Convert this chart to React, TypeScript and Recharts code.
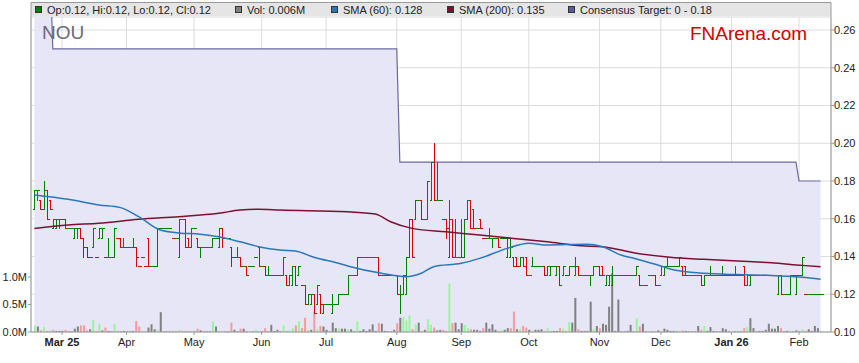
import React from "react";
import { ComposedChart, XAxis, YAxis, CartesianGrid, Area, Bar, Line, Cell } from "recharts";

// x positions are weekday indexes starting Tue 18 Feb 2025
const MONTH_IDX = [9, 30, 52, 74, 95, 118, 139, 161, 184, 204, 227, 249];
const MONTH_LABELS = ["Mar 25", "Apr", "May", "Jun", "Jul", "Aug", "Sep", "Oct", "Nov", "Dec", "Jan 26", "Feb"];
const BOLD_LABELS = ["Mar 25", "Jan 26"];
const PRICE_TICKS = [0.1, 0.12, 0.14, 0.16, 0.18, 0.2, 0.22, 0.24, 0.26];
const LEFT_MINOR_TICKS = [0.14, 0.16, 0.18, 0.2, 0.22, 0.24, 0.26];
const VOL_TICKS = [0, 0.5, 1];

// daily prices in cents
const OPEN = [
  16.5, 17.5, 17, 16.5, 17.5, 17, 15.5, 15.5, 16, 16,
  16, 15.5, 15.5, 15, 15.5, 15.5, 15, 14.5, 14, 14.5,
  14, 15, 15, 14, 14, 14, 14, 15, 15, 14.5,
  14.5, 14.5, 14.5, 14.5, 13.5, 14, 13.5, 15, 13.5, 13.5,
  13.5, 15.5, 15.5, 15.5, 15.5, 15, 15, 14, 16, 16,
  15, 14.5, 15.5, 15, 14.5, 14.5, 14.5, 14.5, 14.5, 15,
  14.5, 15.5, 15, 15, 14.5, 14, 14, 14, 13.5, 13.5,
  13.5, 13.5, 14, 14.5, 13.5, 13.5, 13, 13, 13, 13,
  13, 13, 13, 12.5, 12.5, 13.5, 13, 12.5, 12.5, 11.5,
  11.5, 12, 11.5, 12, 11, 11.5, 11.5, 11, 11.5, 11.5,
  12, 12, 12, 13, 13, 13, 14, 14, 14, 14,
  14, 14, 14, 13, 13, 13, 13, 13, 13, 12,
  12, 12, 14, 16, 16, 17, 17, 16, 16, 17,
  19, 17, 17, 16, 16, 14, 16, 14, 14, 14,
  14, 16, 17, 16.5, 15.5, 16, 15, 15, 15, 15,
  15, 15, 15, 15, 14, 14, 14, 14, 13.5, 14,
  14, 13, 13.5, 13.5, 13.5, 13.5, 13.5, 13, 13, 13.5,
  13, 13.5, 13, 13, 13, 13.5, 13, 13.5, 13, 13,
  13, 13, 13, 13.5, 13.5, 13.5, 12.5, 12.5, 12.5, 13,
  13, 13, 13, 13, 13, 13, 13, 13, 12.5, 12.5,
  13, 13, 13, 12.5, 13, 13, 13.5, 13.5, 13.5, 13.5,
  13.5, 13.5, 13.5, 13, 13, 13, 13, 13, 12.5, 13,
  13, 13, 13, 13, 13, 13, 13, 13, 13, 13,
  13, 13.5, 12.5, 12.5, 13, 13, 13, 13, 13, 13,
  13, 13, 12, 13, 12, 12, 12, 13, 12, 13,
  13, 12, 12, 12, 12, 12, 12,
];
const HIGH = [
  17.5, 17.5, 17, 18, 17.5, 17, 16, 16, 16, 16,
  16, 15.5, 15.5, 15.5, 15.5, 15.5, 15, 14.5, 14, 15.5,
  14, 15.5, 15.5, 14, 15, 14, 15.5, 15, 15, 15,
  14.5, 14.5, 15, 14.5, 13.5, 14, 13.5, 15, 13.5, 13.5,
  15.5, 15.5, 15.5, 15.5, 15.5, 15, 15, 16, 16, 16,
  15, 15.5, 15.5, 15, 14.5, 14.5, 14.5, 14.5, 15, 15,
  15.5, 15.5, 15, 15, 14.5, 14, 14.5, 14, 13.5, 13.5,
  13.5, 13.5, 14, 14.5, 13.5, 13.5, 13.5, 13, 13, 13,
  13, 14, 13, 13, 13.5, 13.5, 13.5, 12.5, 12.5, 12,
  12, 12, 12.5, 12, 11.5, 11.5, 11.5, 12, 11.5, 12,
  12, 12, 13, 13, 13, 14, 14, 14, 14, 14,
  14, 14, 14, 13, 13, 13, 13, 13, 13, 12.5,
  13, 14, 16, 16, 17, 17, 17, 16, 18, 19,
  20, 19, 17, 16, 16, 17, 16, 16, 14, 16,
  16, 17, 17, 16.5, 15.5, 16, 15, 15, 15.5, 15,
  15, 15, 15, 15, 15, 15, 14, 14, 14, 14,
  14, 13, 14, 13.5, 13.5, 13.5, 13.5, 13.5, 13.5, 13.5,
  13.5, 13.5, 13.5, 13, 13.5, 13.5, 14, 13.5, 13, 13,
  13, 13, 13.5, 13.5, 13.5, 13.5, 13, 13, 13.5, 13,
  13, 13, 13, 13, 13, 13, 13.5, 13, 12.5, 12.5,
  13, 13, 13, 12.5, 13.5, 13.5, 14, 13.5, 13.5, 13.5,
  14, 13.5, 13.5, 13, 13, 13, 13, 13, 13, 13,
  13.5, 13, 13, 13, 13.5, 13, 13, 13, 13.5, 13,
  13, 13.5, 13, 13, 13, 13, 13, 13, 13, 13,
  13, 13, 13, 13, 12, 12, 13, 13, 13, 13,
  14, 12, 12, 12, 12, 12, 12,
];
const LOW = [
  16.5, 17, 16.5, 16.5, 16, 16.5, 15.5, 15.5, 15.5, 16,
  15.5, 15.5, 15.5, 15, 15, 15, 14, 14, 14, 14.5,
  14, 15, 15, 14, 14, 14, 14, 15, 14.5, 14.5,
  14.5, 14.5, 14.5, 13.5, 13.5, 14, 13.5, 13.5, 13.5, 13.5,
  13.5, 15.5, 15.5, 15.5, 15.5, 15, 15, 14, 16, 14.5,
  14.5, 14.5, 15.5, 14.5, 14, 14.5, 14.5, 14.5, 14.5, 15,
  14.5, 14.5, 15, 15, 13.5, 14, 14, 13.5, 13.5, 13,
  13.5, 13.5, 14, 13.5, 13.5, 13, 13, 13, 13, 13,
  13, 13, 12.5, 12.5, 12.5, 12.5, 13, 12.5, 11.5, 11.5,
  11.5, 11, 11.5, 11, 11, 11.5, 11.5, 11, 11.5, 11.5,
  12, 12, 12, 13, 13, 13, 14, 14, 14, 14,
  14, 14, 13, 13, 13, 13, 13, 13, 12, 11,
  12, 12, 14, 14, 16, 17, 16, 16, 16, 17,
  17, 17, 17, 16, 15, 14, 14, 14, 14, 14,
  14, 16, 15.5, 15.5, 15.5, 15.5, 15, 15, 15, 14.5,
  15, 14.5, 15, 15, 14, 14, 13.5, 13.5, 13.5, 13.5,
  13, 13, 13.5, 13.5, 13.5, 13.5, 13, 13, 13, 13.5,
  13, 12.5, 13, 13, 13, 13.5, 13, 13, 13, 13,
  13, 12.5, 13, 13.5, 13, 13, 12.5, 12.5, 12.5, 13,
  13, 13, 13, 13, 13, 13, 13, 12.5, 12.5, 12.5,
  13, 13, 12.5, 12.5, 13, 13, 13.5, 13.5, 13.5, 13.5,
  13.5, 13, 13, 13, 13, 13, 13, 12.5, 12.5, 13,
  13, 13, 13, 13, 13, 13, 13, 13, 13, 13,
  13, 12.5, 12.5, 12.5, 13, 13, 13, 13, 13, 13,
  13, 13, 12, 12, 12, 12, 12, 13, 12, 13,
  13, 12, 12, 12, 12, 12, 12,
];
const CLOSE = [
  17.5, 17.5, 16.5, 17.5, 16, 16.5, 16, 16, 16, 16,
  15.5, 15.5, 15.5, 15.5, 15.5, 15, 14.5, 14, 14, 15.5,
  14, 15.5, 15.5, 14, 14, 14, 15.5, 15, 14.5, 14.5,
  14.5, 14.5, 14.5, 14, 13.5, 14, 13.5, 13.5, 13.5, 13.5,
  15.5, 15.5, 15.5, 15.5, 15.5, 15, 15, 16, 16, 14.5,
  14.5, 15.5, 15.5, 14.5, 14.5, 14.5, 14.5, 14.5, 15, 15,
  15.5, 15, 15, 15, 14, 14, 14, 13.5, 13.5, 13,
  13.5, 13.5, 14, 13.5, 13.5, 13, 13, 13, 13, 13,
  13, 14, 12.5, 13, 13.5, 12.5, 13.5, 12.5, 11.5, 12,
  12, 11, 12.5, 11.5, 11.5, 11.5, 11.5, 11.5, 11.5, 12,
  12, 12, 13, 13, 13, 14, 14, 14, 14, 14,
  14, 14, 13, 13, 13, 13, 13, 13, 12, 12,
  13, 14, 16, 14, 17, 17, 16, 16, 18, 19,
  17, 17, 17, 16, 15.5, 16, 14, 14, 14, 14,
  16, 17, 15.5, 15.5, 15.5, 15.5, 15, 15, 15, 15,
  15, 14.5, 15, 15, 15, 14.5, 13.5, 13.5, 14, 13.5,
  13, 13, 13.5, 13.5, 13.5, 13.5, 13, 13.5, 13.5, 13.5,
  13.5, 12.5, 13.5, 13, 13.5, 13.5, 13.5, 13, 13, 13,
  13, 13, 13.5, 13.5, 13, 13, 13, 13, 13, 13,
  13, 13, 13, 13, 13, 13, 13.5, 12.5, 12.5, 12.5,
  13, 13, 12.5, 12.5, 13.5, 13.5, 13.5, 13.5, 13.5, 13.5,
  14, 13, 13, 13, 13, 13, 13, 12.5, 13, 13,
  13, 13, 13, 13, 13, 13, 13, 13, 13, 13,
  13, 12.5, 13, 13, 13, 13, 13, 13, 13, 13,
  13, 13, 13, 12, 12, 12, 13, 13, 13, 13,
  14, 12, 12, 12, 12, 12, 12,
];
// daily volume in millions of shares
const VOLUME = [
  0.115, 0.1, 0.03, 0.09, 0.02, 0.03, 0.04, 0.02, 0.02, 0.02,
  0.04, 0.01, 0.01, 0.06, 0.1, 0.12, 0.12, 0.03, 0.05, 0.22,
  0.02, 0.15, 0.03, 0.08, 0.02, 0.01, 0.15, 0.02, 0.02, 0.02,
  0.01, 0.01, 0.02, 0.2, 0.1, 0.02, 0.01, 0.08, 0.14, 0.05,
  0.04, 0.36, 0.01, 0.01, 0.01, 0.02, 0.01, 0.04, 0.01, 0.02,
  0.01, 0.02, 0.01, 0.06, 0.03, 0.01, 0.01, 0.01, 0.19, 0.1,
  0.02, 0.01, 0.01, 0.01, 0.17, 0.04, 0.01, 0.06, 0.06, 0.02,
  0.01, 0.01, 0.04, 0.01, 0.01, 0.07, 0.01, 0.13, 0.02, 0.04,
  0.01, 0.12, 0.02, 0.03, 0.07, 0.12, 0.19, 0.07, 0.26, 0.04,
  0.04, 0.37, 0.05, 0.11, 0.1, 0.04, 0.01, 0.17, 0.07, 0.07,
  0.06, 0.06, 0.05, 0.05, 0.01, 0.19, 0.02, 0.05, 0.02, 0.05,
  0.14, 0.02, 0.16, 0.15, 0.02, 0.01, 0.01, 0.04, 0.16, 0.26,
  0.27, 0.21, 0.3, 0.05, 0.14, 0.17, 0.01, 0.04, 0.23, 0.13,
  0.08, 0.03, 0.04, 0.04, 0.02, 0.88, 0.16, 0.17, 0.05, 0.16,
  0.13, 0.07, 0.05, 0.04, 0.04, 0.02, 0.07, 0.17, 0.06, 0.14,
  0.04, 0.02, 0.04, 0.04, 0.07, 0.07, 0.37, 0.05, 0.05, 0.11,
  0.08, 0.04, 0.02, 0.04, 0.04, 0.05, 0.01, 0.07, 0.01, 0.02,
  0.02, 0.07, 0.06, 0.02, 0.18, 0.17, 0.62, 0.05, 0.02, 0.02,
  0.02, 0.55, 0.05, 0.11, 0.07, 0.15, 0.13, 0.46, 1.07, 0.02,
  0.59, 0.01, 0.01, 0.02, 0.13, 0.01, 0.25, 0.1, 0.15, 0.01,
  0.01, 0.01, 0.01, 0.03, 0.01, 0.06, 0.04, 0.02, 0.02, 0.01,
  0.01, 0.03, 0.02, 0.01, 0.01, 0.01, 0.11, 0.04, 0.11, 0.02,
  0.09, 0.02, 0.01, 0.01, 0.07, 0.05, 0.01, 0, 0.01, 0.01,
  0.01, 0.07, 0.09, 0.25, 0.07, 0.01, 0.02, 0.02, 0.04, 0.15,
  0.06, 0.06, 0.11, 0.07, 0.01, 0.02, 0.02, 0.01, 0.03, 0.01,
  0.05, 0.02, 0.05, 0.02, 0.11, 0.07, 0.006,
];

// moving averages, read at a handful of days
const SMA60_IDX = [0, 11, 21, 28, 34, 41, 47, 54, 60, 67, 73, 80, 85, 91, 99, 102, 113, 121, 126, 130, 139, 145, 154, 161, 167, 180, 185, 191, 196, 204, 207, 218, 229, 240, 250, 256];
const SMA60_VAL = [0.1726, 0.1703, 0.1673, 0.1659, 0.1611, 0.154, 0.1525, 0.1518, 0.1505, 0.1478, 0.1452, 0.1434, 0.1429, 0.1396, 0.1364, 0.135, 0.1311, 0.1293, 0.1311, 0.1346, 0.1364, 0.139, 0.1443, 0.147, 0.1461, 0.1465, 0.1452, 0.1408, 0.1387, 0.135, 0.1334, 0.1311, 0.1304, 0.13, 0.129, 0.128];
const SMA200_IDX = [0, 11, 21, 34, 47, 60, 67, 73, 80, 102, 111, 116, 123, 134, 145, 156, 167, 178, 185, 196, 207, 218, 229, 240, 250, 256];
const SMA200_VAL = [0.1549, 0.1567, 0.1576, 0.1597, 0.1611, 0.1629, 0.1646, 0.165, 0.1646, 0.1637, 0.1625, 0.1584, 0.1549, 0.1531, 0.1514, 0.1496, 0.1478, 0.1457, 0.1452, 0.1417, 0.1396, 0.1385, 0.1376, 0.1367, 0.1353, 0.1346];

// consensus target (first value sits above the visible range)
const TARGET_IDX = [0, 5, 6, 118, 119, 248, 249, 256];
const TARGET_VAL = [0.3, 0.3, 0.25, 0.25, 0.19, 0.19, 0.18, 0.18];

const UP = "#008000";
const DOWN = "#dd0000";
const VOL_UP = "#99f599";
const VOL_DOWN = "#f79a9a";
const VOL_FLAT = "#808080";
const SMA60_COLOR = "#2a78b8";
const SMA200_COLOR = "#7d1030";
const TARGET_COLOR = "#6a6aa0";
const FONT = "'Liberation Sans', Arial, sans-serif";

const X_DOMAIN = [-1.1, 259.4];
const PRICE_DOMAIN = [0.1, 0.2669];

const toMap = (idx: number[], val: number[]) => {
  const m = new Map<number, number>();
  idx.forEach((k, j) => m.set(k, val[j]));
  return m;
};
const sma60 = toMap(SMA60_IDX, SMA60_VAL);
const sma200 = toMap(SMA200_IDX, SMA200_VAL);
const target = toMap(TARGET_IDX, TARGET_VAL);

const data = CLOSE.map((c, i) => {
  const o = OPEN[i];
  const prev = i > 0 ? CLOSE[i - 1] : o;
  const up = c > o || (c === o && c >= prev);
  return {
    i,
    o: o / 100,
    h: HIGH[i] / 100,
    l: LOW[i] / 100,
    c: c / 100,
    range: [LOW[i] / 100, HIGH[i] / 100],
    v: VOLUME[i],
    up,
    volColor: c > prev ? VOL_UP : c < prev ? VOL_DOWN : VOL_FLAT,
    sma60: sma60.get(i) ?? null,
    sma200: sma200.get(i) ?? null,
    target: target.get(i) ?? null,
  };
});

const last = data[data.length - 1];

const OhlcShape = (props: any) => {
  const { x, y, width, height, payload } = props;
  if (x == null || y == null || !payload) return null;
  const cx = Math.round(x + width / 2) + 0.5;
  const top = Math.min(y, y + height);
  const bot = Math.max(y, y + height);
  const span = payload.h - payload.l;
  const py = (v: number) => (span === 0 ? top : top + ((payload.h - v) / span) * (bot - top));
  const yo = Math.round(py(payload.o)) + 0.5;
  const yc = Math.round(py(payload.c)) + 0.5;
  return (
    <g stroke={payload.up ? UP : DOWN} strokeWidth={1} shapeRendering="crispEdges">
      <line x1={cx} x2={cx} y1={Math.round(top)} y2={Math.round(bot) + 1} />
      <line x1={cx - 2} x2={cx} y1={yo} y2={yo} />
      <line x1={cx} x2={cx + 2} y1={yc} y2={yc} />
    </g>
  );
};

const MonthTick = (props: any) => {
  const { x, y, payload } = props;
  const label = MONTH_LABELS[MONTH_IDX.indexOf(payload.value)];
  return (
    <text x={x} y={y} dy="0.71em" textAnchor="middle" fontSize={11} fill="#222"
      fontWeight={BOLD_LABELS.includes(label) ? "bold" : "normal"}>
      {label}
    </text>
  );
};

const legendItems = [
  { x: 35, color: UP, text: `Op:${last.o.toFixed(2)}, Hi:${last.h.toFixed(2)}, Lo:${last.l.toFixed(2)}, Cl:${last.c.toFixed(2)}` },
  { x: 235, color: VOL_FLAT, text: `Vol: ${last.v.toFixed(3)}M` },
  { x: 331, color: SMA60_COLOR, text: `SMA (60): ${SMA60_VAL[SMA60_VAL.length - 1].toFixed(3)}` },
  { x: 447, color: SMA200_COLOR, text: `SMA (200): ${SMA200_VAL[SMA200_VAL.length - 1].toFixed(3)}` },
  { x: 568, color: "#5c5c96", text: "Consensus Target: 0 - 0.18" },
];

export default function App() {
  return (
    <div style={{ position: "absolute", left: 0, top: 0, width: 859, height: 363, background: "#fff", fontFamily: FONT }}>
      <ComposedChart width={859} height={363} data={data} margin={{ top: 17, right: 0, bottom: 0, left: 0 }}>
        <XAxis xAxisId="px" dataKey="i" type="number" domain={X_DOMAIN} allowDataOverflow
          ticks={MONTH_IDX} interval={0} tick={<MonthTick />} tickSize={3} tickMargin={3}
          stroke="#999" height={31} />
        <XAxis xAxisId="vx" dataKey="i" type="number" domain={X_DOMAIN} allowDataOverflow hide />
        <YAxis yAxisId="vol" orientation="left" width={31} domain={[0, 5.727]} allowDataOverflow
          ticks={VOL_TICKS} tickFormatter={(v: number) => `${v.toFixed(1)}M`} tickSize={3} tickMargin={1}
          stroke="#999" tick={{ fontSize: 11, fill: "#222" }} />
        <YAxis yAxisId="priceL" orientation="left" width={0} domain={PRICE_DOMAIN} allowDataOverflow
          ticks={LEFT_MINOR_TICKS} tickFormatter={() => ""} tickSize={2} axisLine={false}
          stroke="#999" />
        <YAxis yAxisId="price" orientation="right" width={28} domain={PRICE_DOMAIN} allowDataOverflow
          ticks={PRICE_TICKS} tickFormatter={(v: number) => v.toFixed(2)} tickSize={3} tickMargin={0}
          stroke="#999" tick={{ fontSize: 11, fill: "#222", textAnchor: "start" }} />
        <CartesianGrid xAxisId="px" yAxisId="price" stroke="#dcdcdc" />
        <Area xAxisId="px" yAxisId="price" dataKey="target" type="linear" connectNulls
          stroke={TARGET_COLOR} strokeWidth={1.2} fill="#e6e6f6" fillOpacity={1}
          isAnimationActive={false} dot={false} activeDot={false} />
        <Bar xAxisId="vx" yAxisId="vol" dataKey="v" barSize={2} isAnimationActive={false}>
          {data.map((d) => (
            <Cell key={d.i} fill={d.volColor} />
          ))}
        </Bar>
        <Line xAxisId="px" yAxisId="price" dataKey="sma200" type="monotone" connectNulls dot={false}
          stroke={SMA200_COLOR} strokeWidth={1.5} isAnimationActive={false} />
        <Line xAxisId="px" yAxisId="price" dataKey="sma60" type="monotone" connectNulls dot={false}
          stroke={SMA60_COLOR} strokeWidth={1.5} isAnimationActive={false} />
        <Bar xAxisId="px" yAxisId="price" dataKey="range" barSize={3} shape={OhlcShape}
          isAnimationActive={false} />
      </ComposedChart>
      <svg width={859} height={363} style={{ position: "absolute", left: 0, top: 0, pointerEvents: "none" }}>
        <rect x={31} y={2.5} width={800} height={14} fill="#e5e5e5" stroke="none" />
        <line x1={31} x2={831} y1={2.5} y2={2.5} stroke="#999" />
        <line x1={31} x2={31} y1={2.5} y2={17} stroke="#999" />
        <line x1={831} x2={831} y1={2.5} y2={17} stroke="#999" />
        {legendItems.map((it) => (
          <g key={it.x}>
            <rect x={it.x + 0.5} y={6.5} width={6} height={6} fill={it.color} stroke="#333" />
            <text x={it.x + 12} y={13.5} fontSize={11} fill="#222">{it.text}</text>
          </g>
        ))}
        <text x={42} y={38.5} fontSize={19} fill="#6a6a78">NOU</text>
        <text x={690} y={39.5} fontSize={19} fill="#d00000">FNArena.com</text>
      </svg>
    </div>
  );
}
